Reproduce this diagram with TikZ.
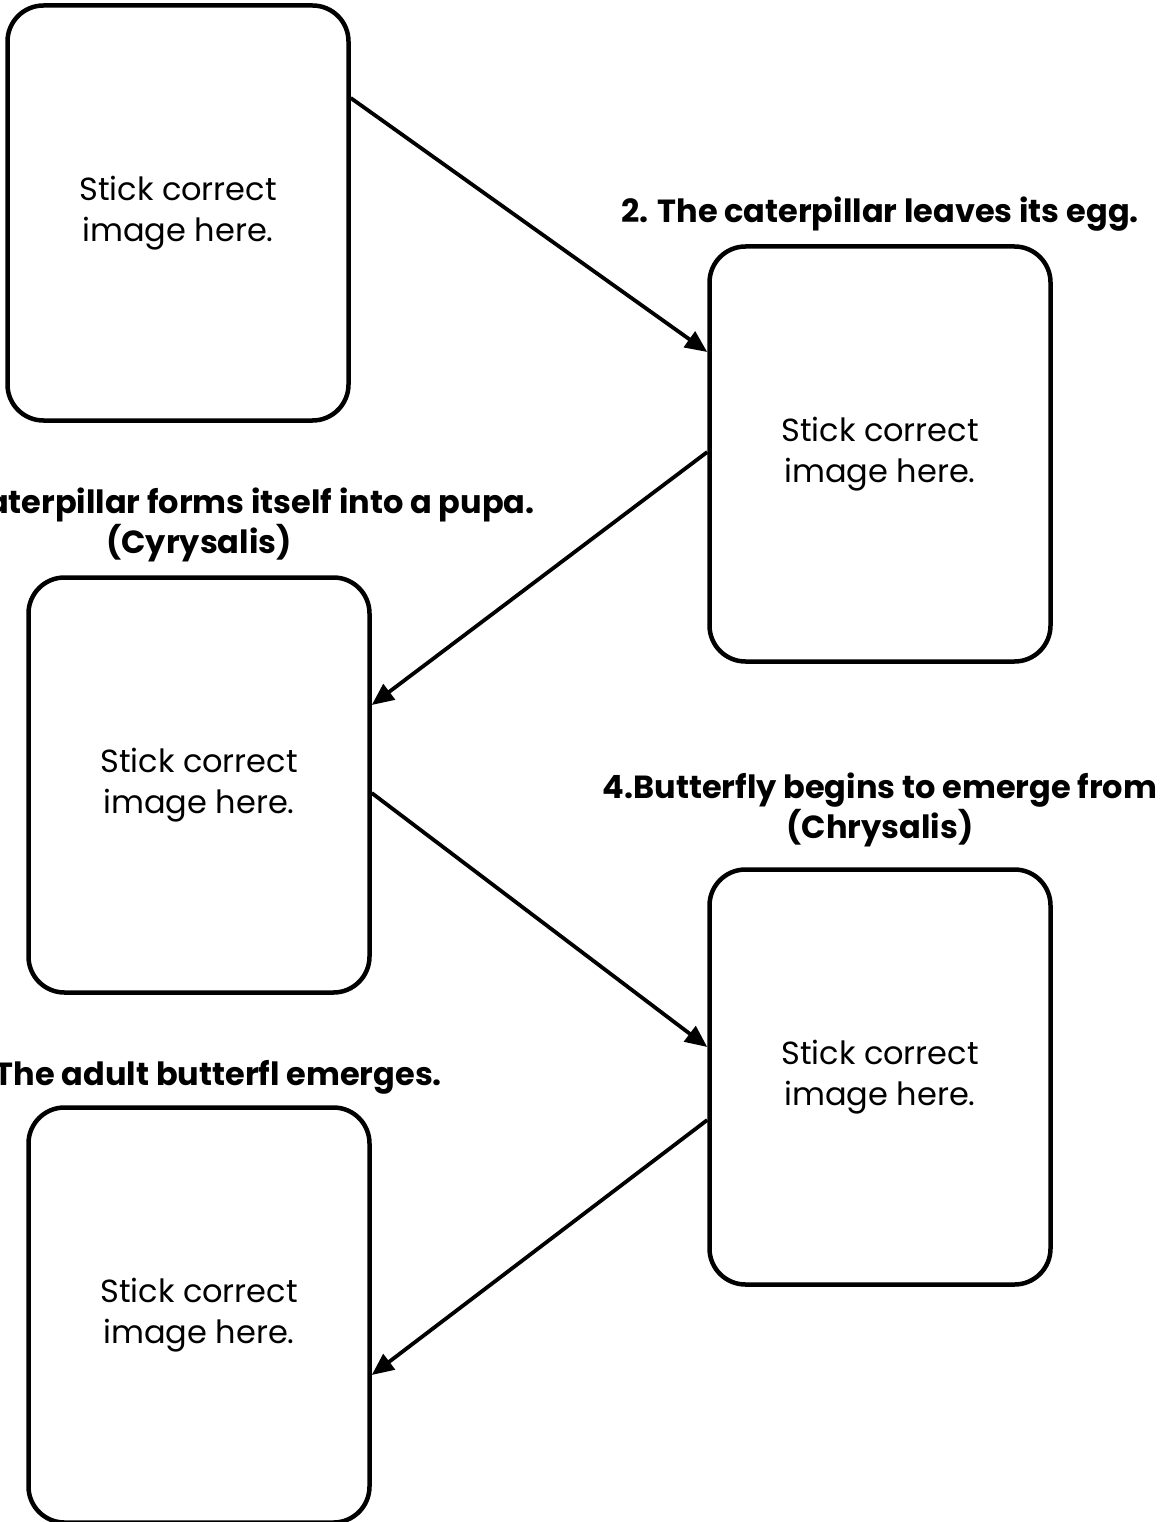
\documentclass[tikz,border=0pt]{standalone}
\usepackage{fontspec}
\setmainfont{Poppins}
\usetikzlibrary{positioning,arrows.meta}

\tikzset{
  card/.style={draw, line width=4.5pt, rounded corners=36pt, minimum width=341pt,
    minimum height=415pt, inner sep=0pt, align=center,
    font=\fontsize{32}{41}\selectfont},
  caption/.style={align=center, inner sep=0pt, font=\bfseries\fontsize{32}{40}\selectfont},
  flow/.style={line width=3.8pt, -{Triangle[length=22pt,width=19pt]}},
}

\begin{document}
\begin{tikzpicture}[x=1pt, y=-1pt]
\useasboundingbox (0,0) rectangle (1173,1522);

% cards
\node[card] (egg)    at (178,213)  {Stick correct\\image here.};
\node[card] (larva)  at (880,454)  {Stick correct\\image here.};
\node[card] (pupa)   at (199,785)  {Stick correct\\image here.};
\node[card] (emerge) at (880,1077) {Stick correct\\image here.};
\node[card] (adult)  at (199,1315) {Stick correct\\image here.};

% captions
\node[caption, above=13pt of larva]  {2. The caterpillar leaves its egg.};
\node[caption, above=13pt of pupa]   {3. The caterpillar forms itself into a pupa.\\(Cyrysalis)};
\node[caption, above=20pt of emerge] {4.Butterfly begins to emerge from\\(Chrysalis)};
\node[caption, above=11pt of adult]  {5. The adult butterfl emerges.};

% arrows
\draw[flow] ([yshift=115pt]egg.east)     -- ([yshift=102pt]larva.west);
\draw[flow] ([yshift=2pt]larva.west)     -- ([yshift=80pt]pupa.east);
\draw[flow] ([yshift=-8pt]pupa.east)     -- ([yshift=30pt]emerge.west);
\draw[flow] ([yshift=-43pt]emerge.west)  -- ([yshift=-60pt]adult.east);
\end{tikzpicture}
\end{document}
